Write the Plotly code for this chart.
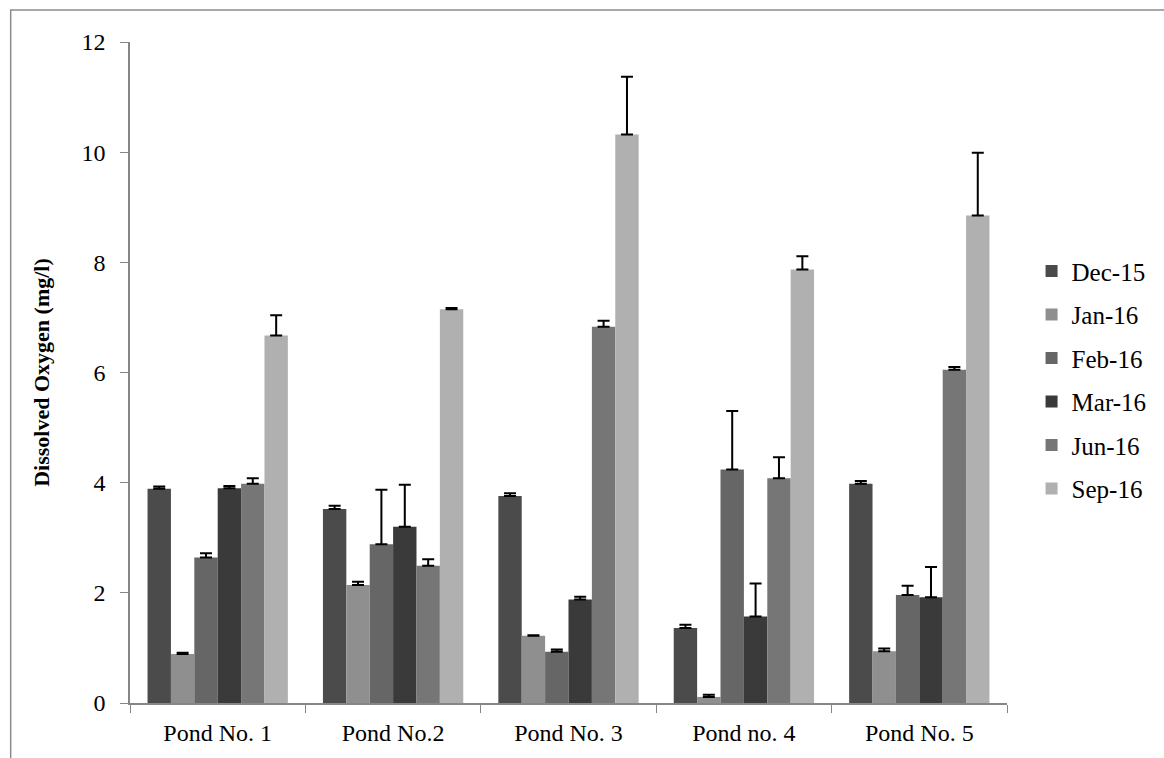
import plotly.graph_objects as go

ponds = ["Pond No. 1", "Pond No.2", "Pond No. 3", "Pond no. 4", "Pond No. 5"]
months = ["Dec-15", "Jan-16", "Feb-16", "Mar-16", "Jun-16", "Sep-16"]

dec15 = [3.89, 3.52, 3.76, 1.36, 3.98]
jan16 = [0.89, 2.14, 1.22, 0.11, 0.94]
feb16 = [2.64, 2.88, 0.93, 4.24, 1.96]
mar16 = [3.90, 3.20, 1.88, 1.57, 1.92]
jun16 = [3.98, 2.49, 6.83, 4.08, 6.05]
sep16 = [6.67, 7.15, 10.32, 7.87, 8.85]

dec15_err = [0.04, 0.06, 0.05, 0.06, 0.05]
jan16_err = [0.02, 0.06, 0.01, 0.04, 0.05]
feb16_err = [0.08, 0.99, 0.04, 1.06, 0.17]
mar16_err = [0.04, 0.76, 0.05, 0.60, 0.55]
jun16_err = [0.10, 0.12, 0.11, 0.38, 0.05]
sep16_err = [0.37, 0.02, 1.05, 0.24, 1.14]

values = [dec15, jan16, feb16, mar16, jun16, sep16]
errors = [dec15_err, jan16_err, feb16_err, mar16_err, jun16_err, sep16_err]
colors = ["#4b4b4b", "#8f8f8f", "#666666", "#3a3a3a", "#767676", "#b0b0b0"]

FONT = "'Liberation Serif', 'Times New Roman', serif"

fig = go.Figure()
for m, v, e, c in zip(months, values, errors, colors):
    fig.add_trace(go.Bar(
        x=ponds, y=v, name=m, legendgroup=m,
        marker=dict(color=c, line=dict(width=0)),
        error_y=dict(type="data", array=e, arrayminus=[0] * len(e), symmetric=False,
                     color="black", thickness=2, width=6),
    ))

fig.update_layout(
    width=1164, height=758,
    margin=dict(l=130, r=152, t=42, b=55),
    paper_bgcolor="white", plot_bgcolor="white",
    barmode="group", bargap=0.2, bargroupgap=0,
    font=dict(family=FONT, size=24, color="black"),
    showlegend=True,
    legend=dict(x=1.028, y=0.489, xanchor="left", yanchor="middle",
                font=dict(family=FONT, size=25, color="black"),
                tracegroupgap=8, itemwidth=30, bgcolor="rgba(0,0,0,0)"),
    xaxis=dict(showline=True, linecolor="#868686", linewidth=1.5,
               ticks="outside", tickson="boundaries", ticklen=8, tickcolor="#868686",
               ticklabelstandoff=7,
               tickfont=dict(family=FONT, size=24, color="black"), showgrid=False),
    yaxis=dict(range=[0, 12], dtick=2, showline=True, linecolor="#868686", linewidth=1.5,
               ticks="outside", ticklen=8, tickcolor="#868686", showgrid=False, zeroline=False,
               ticklabelstandoff=10,
               tickfont=dict(family=FONT, size=24, color="black"),
               title=dict(text="<b>Dissolved Oxygen (mg/l)</b>",
                          font=dict(family=FONT, size=22, color="black"), standoff=26)),
    shapes=[dict(type="rect", xref="paper", yref="paper",
                 x0=(10 - 130) / 882, x1=(1175 - 130) / 882,
                 y0=(703 - 770) / 661, y1=(703 - 10) / 661,
                 line=dict(color="#8c8c8c", width=1.5), fillcolor="rgba(0,0,0,0)", layer="below")],
)

fig.write_html("out.html")
